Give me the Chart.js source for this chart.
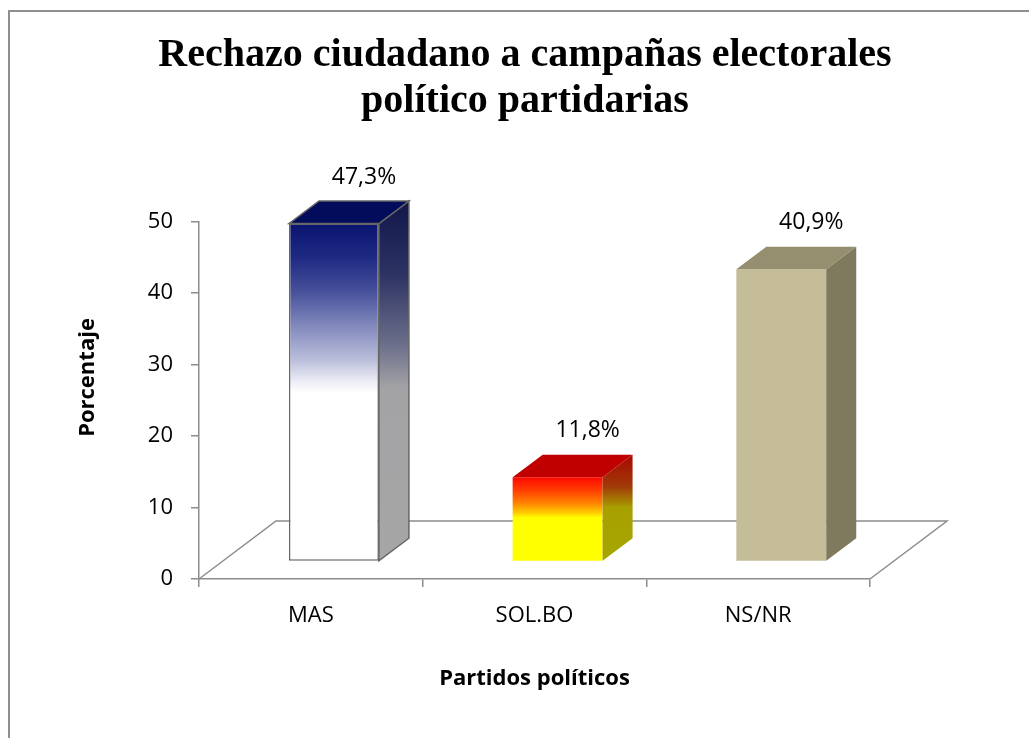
<!DOCTYPE html>
<html lang="es">
<head>
<meta charset="utf-8">
<title>Rechazo ciudadano a campañas electorales</title>
<script src="https://cdn.jsdelivr.net/npm/chart.js@4.4.1/dist/chart.umd.min.js"></script>
<style>
    html, body { margin: 0; padding: 0; background: #fff; overflow: hidden; }
    #marco {
        position: absolute; left: 8px; top: 10px; width: 1100px; height: 800px;
        border: 2px solid #8f8f8f;
    }
    #grafico { position: absolute; left: 0; top: 0; }
</style>
</head>
<body>
<div id="marco"></div>
<canvas id="grafico" width="1029" height="738"></canvas>
<script>
// datos
const partidos = ['MAS', 'SOL.BO', 'NS/NR'];
const porcentajes = [47.3, 11.8, 40.9];
const escalaMin = 0;
const escalaMax = 50;
const escalaPaso = 10;

// estilos de las barras (cara frontal, lateral y superior)
const FRENTE = [
    [[0, '#0a1470'], [0.1, '#1e2a82'], [0.2, '#46509a'], [0.3, '#8088bc'], [0.4, '#b9bcda'], [0.47, '#eeeff7'], [0.5, '#ffffff'], [1, '#ffffff']],
    [[0, '#ff0800'], [0.15, '#ff3c00'], [0.3, '#ff8000'], [0.42, '#ffcc00'], [0.48, '#ffff00'], [1, '#ffff00']],
    [[0, '#c4bd97'], [1, '#c4bd97']]
];
const LATERAL = [
    [[0, '#10164a'], [0.2, '#2c3262'], [0.4, '#6c6f8a'], [0.52, '#a3a3a6'], [1, '#a6a6a6']],
    [[0, '#a80800'], [0.3, '#a03a08'], [0.5, '#a8a000'], [1, '#a6a600']],
    [[0, '#7f7a5d'], [1, '#7f7a5d']]
];
const SUPERIOR = ['#020c5a', '#c00000', '#958e6f'];
const CONTORNO = ['#666666', null, null];

const PISO_DX = 77;     // profundidad del piso
const PISO_DY = -58;
const DESPLAZA = 0.3;   // posición de la cara frontal dentro del piso
const FONDO = 0.39;     // profundidad de cada barra

const gradiente = (ctx, y0, y1, paradas) => {
    const g = ctx.createLinearGradient(0, y0, 0, y1);
    paradas.forEach(([p, c]) => g.addColorStop(p, c));
    return g;
};

const rellenoFrente = (c) => {
    const chart = c.chart;
    if (c.type !== 'data' || !chart.chartArea) return FRENTE[c.dataIndex || 0][0][1];
    const ys = chart.scales.y;
    return gradiente(chart.ctx, ys.getPixelForValue(c.raw), ys.getPixelForValue(0), FRENTE[c.dataIndex]);
};

const barras3d = {
    id: 'barras3d',
    beforeDatasetsDraw(chart) {
        const { ctx, chartArea, scales } = chart;
        const y0 = scales.y.getPixelForValue(0);
        // piso
        ctx.save();
        ctx.strokeStyle = '#8c8c8c';
        ctx.lineWidth = 1.5;
        ctx.beginPath();
        ctx.moveTo(chartArea.left, y0);
        ctx.lineTo(chartArea.left + PISO_DX, y0 + PISO_DY);
        ctx.lineTo(chartArea.right + PISO_DX, y0 + PISO_DY);
        ctx.lineTo(chartArea.right, y0);
        ctx.stroke();
        ctx.restore();
        // las caras frontales se dibujan desplazadas hacia el fondo
        ctx.save();
        ctx.translate(PISO_DX * DESPLAZA, PISO_DY * DESPLAZA);
    },
    afterDatasetsDraw(chart) {
        const { ctx } = chart;
        ctx.restore();
        const sx = PISO_DX * DESPLAZA, sy = PISO_DY * DESPLAZA;
        const bx = PISO_DX * FONDO, by = PISO_DY * FONDO;
        const meta = chart.getDatasetMeta(0);
        meta.data.forEach((el, i) => {
            const { x, y, base, width } = el.getProps(['x', 'y', 'base', 'width'], true);
            const L = x - width / 2 + sx, R = x + width / 2 + sx;
            const T = y + sy, B = base + sy;
            ctx.save();
            // cara lateral
            ctx.beginPath();
            ctx.moveTo(R, T);
            ctx.lineTo(R + bx, T + by);
            ctx.lineTo(R + bx, B + by);
            ctx.lineTo(R, B);
            ctx.closePath();
            ctx.fillStyle = gradiente(ctx, T + by, B, LATERAL[i]);
            ctx.fill();
            if (CONTORNO[i]) {
                ctx.strokeStyle = CONTORNO[i];
                ctx.lineWidth = 1.5;
                ctx.stroke();
            }
            // cara superior
            ctx.beginPath();
            ctx.moveTo(L, T);
            ctx.lineTo(L + bx, T + by);
            ctx.lineTo(R + bx, T + by);
            ctx.lineTo(R, T);
            ctx.closePath();
            ctx.fillStyle = SUPERIOR[i];
            ctx.fill();
            if (CONTORNO[i]) ctx.stroke();
            // etiqueta
            ctx.fillStyle = '#000';
            ctx.font = '23px "Open Sans"';
            ctx.textAlign = 'center';
            ctx.textBaseline = 'middle';
            const texto = porcentajes[i].toFixed(1).replace('.', ',') + '%';
            ctx.fillText(texto, (L + R) / 2 + bx, T + by - 24);
            ctx.restore();
        });
    }
};

Chart.defaults.font.family = '"Open Sans", sans-serif';
Chart.defaults.color = '#000';

new Chart(document.getElementById('grafico'), {
    type: 'bar',
    data: {
        labels: partidos,
        datasets: [{
            data: porcentajes,
            backgroundColor: rellenoFrente,
            borderColor: CONTORNO.map(c => c || 'rgba(0,0,0,0)'),
            borderWidth: CONTORNO.map(c => c ? 1.5 : 0),
            borderSkipped: false,
            barPercentage: 0.402,
            categoryPercentage: 1,
            clip: false
        }]
    },
    options: {
        responsive: false,
        animation: false,
        layout: { padding: { left: 21, right: 0, top: 0, bottom: 0 } },
        plugins: {
            legend: { display: false },
            tooltip: { enabled: false },
            title: {
                display: true,
                text: ['Rechazo ciudadano a campañas electorales', 'político partidarias'],
                font: { family: '"Liberation Serif", serif', size: 40, weight: 'bold', lineHeight: 1.15 },
                color: '#000',
                padding: { top: 33, bottom: 96.7 }
            }
        },
        scales: {
            x: {
                grid: { drawOnChartArea: false, tickLength: 8, color: '#8c8c8c', lineWidth: 1.5 },
                border: { color: '#8c8c8c', width: 1.5 },
                ticks: { font: { size: 22 }, padding: 16 },
                title: {
                    display: true,
                    text: 'Partidos políticos',
                    font: { size: 22, weight: 'bold' },
                    padding: { bottom: 46 }
                },
                afterFit: (s) => { s.height = 159; }
            },
            y: {
                min: escalaMin,
                max: escalaMax,
                ticks: { stepSize: escalaPaso, font: { size: 22 }, padding: 18 },
                grid: { drawOnChartArea: false, tickLength: 8, color: '#8c8c8c', lineWidth: 1.5 },
                border: { color: '#8c8c8c', width: 1.5 },
                title: {
                    display: true,
                    text: '        Porcentaje',
                    font: { size: 22, weight: 'bold' },
                    padding: { top: 54 }
                },
                afterFit: (s) => { s.width = 178; }
            },
            derecha: {
                type: 'linear',
                position: 'right',
                grid: { display: false },
                border: { display: false },
                ticks: { display: false },
                afterFit: (s) => { s.width = 159; }
            }
        }
    },
    plugins: [barras3d]
});
</script>
</body>
</html>
